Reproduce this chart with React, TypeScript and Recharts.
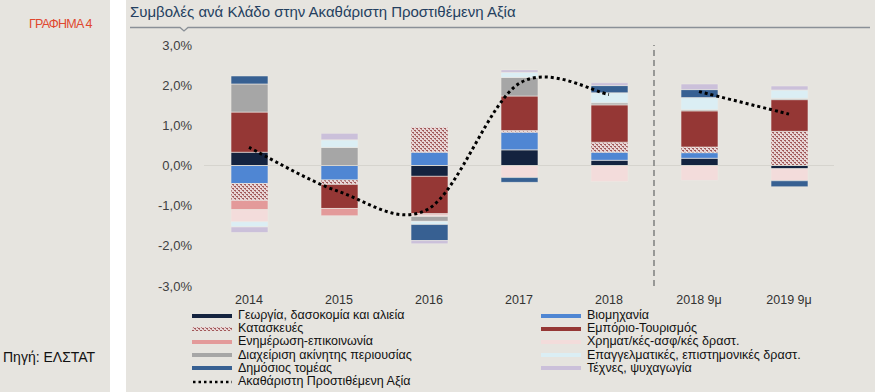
import { Bar, BarChart, Line, ReferenceLine, XAxis, YAxis } from 'recharts'

const categories = ['2014', '2015', '2016', '2017', '2018', '2018 9μ', '2019 9μ']

// contributions per sector, percentage points
const georgia = [0.33, 0, -0.27, 0.39, 0.13, 0.18, -0.08]
const viomixania = [-0.45, -0.36, 0.33, 0.44, 0.2, 0.14, 0]
const kataskeves = [-0.42, -0.11, 0.62, 0.04, 0.25, 0.14, 0.85]
const emporio = [1.0, -0.6, -0.93, 0.86, 0.93, 0.9, 0.79]
const enimerosi = [-0.23, -0.18, -0.03, 0, 0, 0, 0]
const xrimat = [-0.3, 0, -0.04, -0.3, -0.4, -0.37, -0.3]
const diaxeirisi = [0.7, 0.45, -0.12, 0.46, 0.05, 0.03, 0.03]
const epaggelmatikes = [-0.13, 0.19, -0.08, 0.13, 0.25, 0.3, 0.21]
const dimosios = [0.2, 0, -0.4, -0.12, 0.18, 0.2, -0.15]
const texnes = [-0.14, 0.16, -0.08, 0.06, 0.07, 0.14, 0.1]

const gvaAnnual = [0.45, -0.65, -1.07, 2.04, 1.77, null, null]
const gvaNineMonths = [null, null, null, null, null, 1.84, 1.28]

const yTicks = [-3, -2, -1, 0, 1, 2, 3]

const sectorNames = [
  'Γεωργία, δασοκομία και αλιεία',
  'Βιομηχανία',
  'Κατασκευές',
  'Εμπόριο-Τουρισμός',
  'Ενημέρωση-επικοινωνία',
  'Χρηματ/κές-ασφ/κές δραστ.',
  'Διαχείριση ακίνητης περιουσίας',
  'Επαγγελματικές, επιστημονικές δραστ.',
  'Δημόσιος τομέας',
  'Τέχνες, ψυχαγωγία',
]
const lineName = 'Ακαθάριστη Προστιθέμενη Αξία'

const sectorValues = [georgia, viomixania, kataskeves, emporio, enimerosi, xrimat, diaxeirisi, epaggelmatikes, dimosios, texnes]
const sectorColors = ['#14233f', '#4f86d3', 'url(#hatch)', '#953735', '#e39a9a', '#f3dcdb', '#a6a6a6', '#dbeef4', '#376092', '#cbc0da']

const data = categories.map((cat, i) => {
  const row: Record<string, any> = { cat, gva: gvaAnnual[i], gva9: gvaNineMonths[i] }
  sectorValues.forEach((arr, s) => { row['s' + s] = arr[i] })
  return row
})

const BG = '#e6e4df'
const FONT = '"Liberation Sans", Arial, sans-serif'

function fmt(v: number) {
  return v.toFixed(1).replace('.', ',') + '%'
}

// smoothed line like the spreadsheet one (cardinal bezier through the points)
function smoothCurve(context: any) {
  let pts: number[][] = []
  return {
    areaStart() {},
    areaEnd() {},
    lineStart() { pts = [] },
    point(x: number, y: number) { pts.push([+x, +y]) },
    lineEnd() {
      if (!pts.length) return
      context.moveTo(pts[0][0], pts[0][1])
      for (let i = 0; i < pts.length - 1; i++) {
        const p0 = pts[i - 1] || pts[i]
        const p1 = pts[i]
        const p2 = pts[i + 1]
        const p3 = pts[i + 2] || pts[i + 1]
        context.bezierCurveTo(
          p1[0] + (p2[0] - p0[0]) / 6, p1[1] + (p2[1] - p0[1]) / 6,
          p2[0] - (p3[0] - p1[0]) / 6, p2[1] - (p3[1] - p1[1]) / 6,
          p2[0], p2[1],
        )
      }
    },
  }
}

function Swatch({ idx }: { idx: number }) {
  if (idx === -1) {
    return (
      <svg width={40} height={6} style={{ display: 'block' }}>
        <line x1={1} y1={3} x2={40} y2={3} stroke="#000" strokeWidth={2.5} strokeDasharray="2.5 3" />
      </svg>
    )
  }
  return (
    <svg width={40} height={6} style={{ display: 'block' }}>
      <rect x={0} y={1} width={40} height={4} fill={sectorColors[idx]} />
    </svg>
  )
}

function LegendBlock() {
  const left = [0, 2, 4, 6, 8, -1]
  const right = [1, 3, 5, 7, 9]
  const item = (idx: number) => (
    <div key={idx} style={{ display: 'flex', alignItems: 'center', height: 13.2, lineHeight: '13px' }}>
      <Swatch idx={idx} />
      <span style={{ marginLeft: 6, whiteSpace: 'nowrap' }}>{idx === -1 ? lineName : sectorNames[idx]}</span>
    </div>
  )
  return (
    <>
      <div style={{ position: 'absolute', left: 192, top: 309, fontSize: 12.5, fontFamily: FONT, color: '#111' }}>
        {left.map(item)}
      </div>
      <div style={{ position: 'absolute', left: 541, top: 309, fontSize: 12.5, fontFamily: FONT, color: '#111' }}>
        {right.map(item)}
      </div>
    </>
  )
}

export default function App() {
  return (
    <div style={{ position: 'absolute', left: 0, top: 0, width: 875, height: 392, background: '#fff', fontFamily: FONT }}>
      <svg width={0} height={0} style={{ position: 'absolute' }}>
        <defs>
          <pattern id="hatch" width={4} height={4} patternUnits="userSpaceOnUse">
            <rect width={4} height={4} fill="#e8d6d6" />
            <rect x={0} y={0} width={2} height={1} fill="#a05858" />
            <rect x={2} y={2} width={2} height={1} fill="#a05858" />
            <rect x={1} y={1} width={1} height={1} fill="#b88080" />
            <rect x={3} y={3} width={1} height={1} fill="#b88080" />
          </pattern>
        </defs>
      </svg>
      <div style={{ position: 'absolute', left: 0, top: 0, width: 110, height: 392, background: BG }} />
      <div style={{ position: 'absolute', left: 126, top: 0, width: 749, height: 392, background: BG }} />
      <div style={{ position: 'absolute', left: 29, top: 17, fontSize: 12.5, letterSpacing: -0.8, color: '#e0472e' }}>ΓΡΑΦΗΜΑ 4</div>
      <div style={{ position: 'absolute', left: 3, top: 349, fontSize: 14, color: '#111' }}>Πηγή: ΕΛΣΤΑΤ</div>
      <div style={{ position: 'absolute', left: 130, top: 3, fontSize: 15, color: '#243f60' }}>
        Συμβολές ανά Κλάδο στην Ακαθάριστη Προστιθέμενη Αξία
      </div>
      <svg style={{ position: 'absolute', left: 0, top: 0 }} width={875} height={40}>
        <polyline points="130,27.5 180,27.5 184,31 188,27.5 870,27.5" fill="none" stroke="#8a9097" strokeWidth={1.3} />
      </svg>
      <div style={{ position: 'absolute', left: 0, top: 0 }}>
        <BarChart
          width={875}
          height={392}
          data={data}
          stackOffset="sign"
          barSize={37}
          margin={{ top: 45, right: 41, left: 144, bottom: 76 }}
        >
          <XAxis
            dataKey="cat"
            axisLine={false}
            tickLine={false}
            height={30}
            tickMargin={3}
            tick={{ fontSize: 12.5, fill: '#333', fontFamily: FONT }}
          />
          <YAxis
            domain={[-3, 3]}
            ticks={yTicks}
            tickFormatter={fmt}
            axisLine={false}
            tickLine={false}
            width={60}
            tickMargin={6}
            tick={{ fontSize: 13, fill: '#404040', fontFamily: FONT }}
          />
          <ReferenceLine y={0} stroke="#d6d4ce" strokeWidth={1} />
          <ReferenceLine x="2018 9μ" position="start" stroke="#7f7f7f" strokeWidth={1.5} strokeDasharray="6 4" />
          {sectorNames.map((name, s) => (
            <Bar
              key={s}
              dataKey={'s' + s}
              name={name}
              stackId="a"
              fill={sectorColors[s]}
              stroke="#ece9e4"
              strokeWidth={0.6}
              isAnimationActive={false}
            />
          ))}
          <Line
            dataKey="gva"
            name={lineName}
            type={smoothCurve as any}
            stroke="#000"
            strokeWidth={3}
            strokeDasharray="3 3"
            dot={false}
            activeDot={false}
            isAnimationActive={false}
          />
          <Line
            dataKey="gva9"
            name={lineName}
            type={smoothCurve as any}
            stroke="#000"
            strokeWidth={3}
            strokeDasharray="3 3"
            dot={false}
            activeDot={false}
            legendType="none"
            isAnimationActive={false}
          />
        </BarChart>
      </div>
      <LegendBlock />
    </div>
  )
}
